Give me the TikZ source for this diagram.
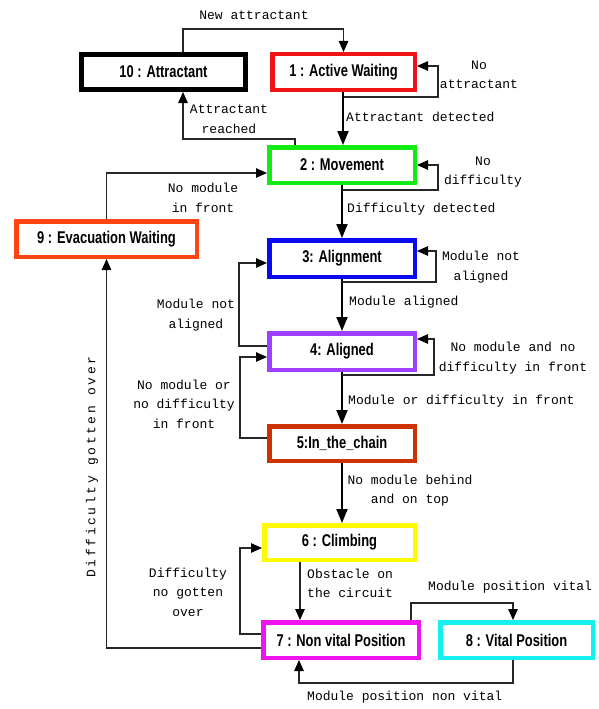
\documentclass[tikz,border=0pt]{standalone}
\usepackage{fontspec}
\setmainfont{Liberation Sans}
\newfontfamily\monof{Liberation Mono}
\newfontfamily\spacedmono[LetterSpace=20]{Liberation Mono}
\newfontfamily\boxf[FakeStretch=0.76]{Liberation Sans}
\usetikzlibrary{arrows.meta}
\definecolor{red1}{RGB}{240,20,20}
\definecolor{green2}{RGB}{20,235,20}
\definecolor{blue3}{RGB}{10,10,240}
\definecolor{purple4}{RGB}{160,64,255}
\definecolor{brown5}{RGB}{204,51,0}
\definecolor{yellow6}{RGB}{255,250,0}
\definecolor{magenta7}{RGB}{240,20,240}
\definecolor{cyan8}{RGB}{20,240,240}
\definecolor{orange9}{RGB}{255,69,20}
\begin{document}
\begin{tikzpicture}[x=1pt,y=-1pt,
 state/.style={draw, line width=4.5pt, fill=white, minimum height=35.5pt, inner sep=0pt, font=\boxf\bfseries\fontsize{17}{19}\selectfont},
 lbl/.style={font=\monof\fontsize{13}{19.5}\selectfont, align=center, inner sep=0pt},
 conn/.style={line width=1.3pt, draw=black!85, -{Triangle[length=11pt,width=9.5pt,color=black]}},
 main/.style={line width=2pt, draw=black, -{Triangle[length=14pt,width=11pt]}},
]
\useasboundingbox[fill=white] (0,0) rectangle (598,709);

% states
\node[state, draw=red1, minimum width=142.5pt] (n1) at (343.5,72) {1 : Active Waiting};
\node[state, draw=black, line width=5pt, minimum width=164pt, minimum height=35pt] (n10) at (163.5,72) {10 : Attractant};
\node[state, draw=green2, minimum width=145.5pt] (n2) at (342,165) {2 : Movement};
\node[state, draw=orange9, minimum width=180.5pt] (n9) at (106.5,239) {9 : Evacuation Waiting};
\node[state, draw=blue3, minimum width=145.5pt, minimum height=36.5pt] (n3) at (342,258.5) {3: Alignment};
\node[state, draw=purple4, minimum width=145.5pt, minimum height=36.5pt] (n4) at (342,351.5) {4: Aligned};
\node[state, draw=brown5, minimum width=145.5pt, minimum height=34.5pt] (n5) at (342,443.5) {5:In\_the\_chain};
\node[state, draw=yellow6, minimum width=150.5pt, minimum height=34.5pt] (n6) at (339.5,542.5) {6 : Climbing};
\node[state, draw=magenta7, minimum width=155.5pt] (n7) at (341,640) {7 : Non vital Position};
\node[state, draw=cyan8, minimum width=152.5pt] (n8) at (516.5,640) {8 : Vital Position};

% main flow
\draw[main] ([xshift=-0.5pt]n1.south) -- ([xshift=-0.5pt]n1.south |- n2.north);
\draw[main] (n2.south) -- (n3.north);
\draw[main] (n3.south) -- (n4.north);
\draw[main] (n4.south) -- (n5.north);
\draw[main] (n5.south) -- (n5.south |- n6.north);
\draw[conn] ([xshift=-39.5pt]n6.south) -- ([xshift=-39.5pt]n6.south |- n7.north);

% self loops
\draw[conn] ([yshift=-5pt]n1.south) -| ([xshift=21pt,yshift=6pt]n1.east) -- ([yshift=6pt]n1.east);
\draw[conn] ([yshift=-5pt]n2.south) -| ([xshift=21pt]n2.east) -- (n2.east);
\draw[conn] ([yshift=-3pt]n3.south) -| ([xshift=19pt,yshift=7.5pt]n3.east) -- ([yshift=7.5pt]n3.east);
\draw[conn] ([yshift=-3pt]n4.south) -| ([xshift=17pt,yshift=12.5pt]n4.east) -- ([yshift=12.5pt]n4.east);

% other transitions
\draw[conn] ([xshift=19.5pt]n10.north) -- ++(0,-23) -| (n1.north);
\draw[conn] ([xshift=-47pt]n2.north) -- ++(0,-6) -| ([xshift=19.5pt]n10.south);
\draw[conn] (n9.north) |- ([yshift=-8pt]n2.west);
\draw[conn] ([yshift=5.5pt]n4.west) -- ++(-28,0) |- ([yshift=-4.5pt]n3.west);
\draw[conn] ([yshift=5.5pt]n5.west) -- ++(-27,0) |- ([yshift=-5.5pt]n4.west);
\draw[conn] ([yshift=6pt]n7.west) -- ++(-21,0) |- ([yshift=-5.5pt]n6.west);
\draw[conn] ([yshift=-8pt]n7.west) -| (n9.south);
\draw[conn] ([xshift=70pt]n7.north) -- ++(0,-17) -| ([xshift=-3.5pt]n8.north);
\draw[conn] ([xshift=-3.5pt]n8.south) -- ++(0,23) -| ([xshift=-42pt]n7.south);

% labels
\node[lbl] (lNew) at (254,15) {New attractant};
\node[lbl] (lNoAttr) at (479,75) {No\\attractant};
\node[lbl, anchor=west] (lDet) at (346,117) {Attractant detected};
\node[lbl] (lReach) at (229,119.5) {Attractant\\reached};
\node[lbl] (lNoDiff) at (483,172) {No\\difficulty};
\node[lbl] (lNoMod) at (203,198) {No module\\in front};
\node[lbl, anchor=west] (lDiffDet) at (347,209) {Difficulty detected};
\node[lbl] (lNotAl1) at (481,267) {Module not\\aligned};
\node[lbl, anchor=west] (lAl) at (349,302) {Module aligned};
\node[lbl] (lNotAl2) at (196,315) {Module not\\aligned};
\node[lbl] (lNoModNoDiff) at (513,358) {No module and no\\difficulty in front};
\node[lbl, anchor=west] (lModOr) at (348,401) {Module or difficulty in front};
\node[lbl] (lNoModOr) at (184,404) {No module or\\no difficulty\\in front};
\node[lbl] (lBehind) at (410,490.5) {No module behind\\and on top};
\node[lbl] (lNoGot) at (188,592) {Difficulty\\no gotten\\over};
\node[lbl, anchor=west, align=left] (lObst) at (307,583.5) {Obstacle on\\the circuit};
\node[lbl, anchor=west] (lVital) at (428,587) {Module position vital};
\node[lbl, anchor=west] (lNonVital) at (307,697) {Module position non vital};
\node[lbl, font=\spacedmono\fontsize{13}{15}\selectfont, rotate=90] (lGot) at (92,467) {Difficulty gotten over};
\end{tikzpicture}
\end{document}
